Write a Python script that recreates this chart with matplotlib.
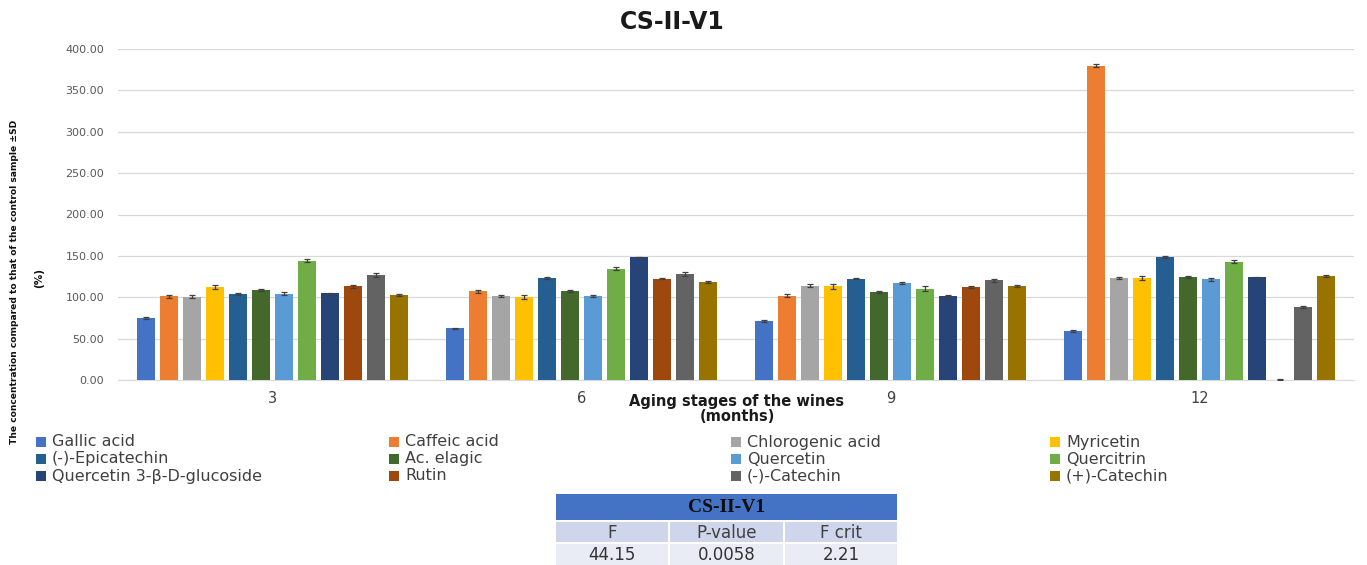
import matplotlib
matplotlib.use("Agg")
import matplotlib.pyplot as plt
from matplotlib.patches import Rectangle
import numpy as np

# Aging stages (months)
stages = ["3", "6", "9", "12"]

compounds = [
    "Gallic acid", "Caffeic acid", "Chlorogenic acid", "Myricetin",
    "(-)-Epicatechin", "Ac. elagic", "Quercetin", "Quercitrin",
    "Quercetin 3-\u03b2-D-glucoside", "Rutin", "(-)-Catechin", "(+)-Catechin",
]

colors = [
    "#4472C4", "#ED7D31", "#A5A5A5", "#FFC000",
    "#255E91", "#43682B", "#5B9BD5", "#70AD47",
    "#264478", "#9E480E", "#636363", "#997300",
]

# Concentration relative to control (%), one list per compound across stages 3/6/9/12
gallic_acid = [75.0, 62.5, 71.0, 59.5]
caffeic_acid = [101.0, 107.0, 102.0, 380.0]
chlorogenic_acid = [100.5, 101.5, 114.0, 123.5]
myricetin = [112.0, 100.5, 113.0, 123.0]
epicatechin = [104.0, 123.5, 122.5, 149.0]
ac_elagic = [108.5, 107.5, 106.5, 124.5]
quercetin = [104.5, 101.5, 117.0, 121.5]
quercitrin = [144.0, 134.5, 110.5, 143.0]
q3_glucoside = [105.0, 148.5, 101.5, 124.0]
rutin = [113.0, 122.5, 112.5, 0.5]
minus_catechin = [126.5, 128.0, 120.5, 88.5]
plus_catechin = [103.0, 118.5, 113.0, 126.0]

values = [gallic_acid, caffeic_acid, chlorogenic_acid, myricetin,
          epicatechin, ac_elagic, quercetin, quercitrin,
          q3_glucoside, rutin, minus_catechin, plus_catechin]

# Standard deviations
sd = [
    [0.8, 0.6, 1.2, 1.0],
    [2.0, 1.5, 2.0, 1.5],
    [2.0, 1.5, 1.5, 1.5],
    [2.5, 2.5, 2.5, 2.5],
    [1.0, 1.0, 1.0, 1.0],
    [1.2, 1.0, 1.0, 1.5],
    [1.5, 1.2, 1.5, 1.5],
    [2.0, 2.0, 2.5, 1.5],
    [0.5, 0.6, 1.0, 0.5],
    [1.5, 0.8, 1.0, 0.2],
    [2.5, 2.5, 1.5, 1.0],
    [1.2, 1.2, 1.2, 1.2],
]

# ANOVA summary
anova_headers = ["F", "P-value", "F crit"]
anova_values = ["44.15", "0.0058", "2.21"]

W, H = 1367, 565
fig = plt.figure(figsize=(W / 100, H / 100), dpi=100)
fig.patch.set_facecolor("white")


def fx(px):
    return px / W


def fy(py):
    return 1 - py / H


ax = fig.add_axes([fx(118), fy(380), fx(1354) - fx(118), fy(49) - fy(380)])

x = np.arange(len(stages))
slot = 0.0744
width = 0.056
n = len(compounds)
for j, (name, col, vals, err) in enumerate(zip(compounds, colors, values, sd)):
    pos = x + (j - (n - 1) / 2) * slot
    ax.bar(pos, vals, width=width, color=col, zorder=3)
    ax.errorbar(pos, vals, yerr=err, fmt="none", ecolor="#404040",
                elinewidth=0.9, capsize=2.5, capthick=0.9, zorder=4)

ax.set_xlim(-0.5, len(stages) - 0.5)
ax.set_ylim(0, 400)
ax.set_yticks(np.arange(0, 401, 50))
ax.set_yticklabels([f"{v:.2f}" for v in np.arange(0, 401, 50)])
ax.set_xticks(x)
ax.set_xticklabels(stages)
ax.tick_params(axis="y", length=0, labelsize=8, labelcolor="#595959", pad=10)
ax.tick_params(axis="x", length=0, labelsize=10.5, labelcolor="#404040", pad=8)
ax.grid(axis="y", color="#D9D9D9", linewidth=0.9, zorder=0)
for s in ["top", "right", "left"]:
    ax.spines[s].set_visible(False)
ax.spines["bottom"].set_color("#D9D9D9")

fig.text(fx(672), fy(22), "CS-II-V1", ha="center", va="center",
         fontsize=17, fontweight="bold", color="#1a1a1a")
fig.text(fx(737), fy(409), "Aging stages of the wines\n(months)", ha="center",
         va="center", fontsize=10.5, fontweight="bold", color="#1a1a1a",
         linespacing=1.05)
fig.text(fx(15), fy(282),
         "The concentration compared to that of the control sample \u00b1SD",
         rotation=90, ha="center", va="center", fontsize=6.6,
         fontweight="heavy", color="#111111")
fig.text(fx(39), fy(278), "(%)", rotation=90, ha="center", va="center",
         fontsize=7.5, fontweight="bold", color="#111111")

# Legend in row-major order, 4 columns
col_x = [36, 389, 731, 1050]
row_y = [442, 459, 476]
for k, (name, col) in enumerate(zip(compounds, colors)):
    r, c = divmod(k, 4)
    sx, sy = col_x[c], row_y[r]
    fig.add_artist(Rectangle((fx(sx), fy(sy + 5)), fx(10), 10 / H,
                             transform=fig.transFigure, facecolor=col,
                             edgecolor="none"))
    fig.text(fx(sx + 16), fy(sy), name, ha="left", va="center",
             fontsize=11.5, color="#404040")

# ANOVA table
tx0, tx1 = 556, 897
fig.add_artist(Rectangle((fx(tx0), fy(520)), fx(tx1 - tx0), 26 / H,
                         transform=fig.transFigure, facecolor="#4472C4",
                         edgecolor="none"))
fig.text(fx((tx0 + tx1) / 2), fy(508), "CS-II-V1", ha="center", va="center",
         fontsize=14, fontweight="bold", family="Liberation Serif",
         color="#0d0d0d")
cols = [(556, 668), (670, 783), (785, 897)]
for (c0, c1), hdr, val in zip(cols, anova_headers, anova_values):
    fig.add_artist(Rectangle((fx(c0), fy(542)), fx(c1 - c0), 20 / H,
                             transform=fig.transFigure, facecolor="#CFD5EA",
                             edgecolor="none"))
    fig.add_artist(Rectangle((fx(c0), fy(565)), fx(c1 - c0), 21 / H,
                             transform=fig.transFigure, facecolor="#E9EBF5",
                             edgecolor="none"))
    fig.text(fx((c0 + c1) / 2), fy(532.5), hdr, ha="center", va="center",
             fontsize=12, color="#404040")
    fig.text(fx((c0 + c1) / 2), fy(554.5), val, ha="center", va="center",
             fontsize=12, color="#333333")

fig.savefig("out.png", dpi=100, facecolor="white")
